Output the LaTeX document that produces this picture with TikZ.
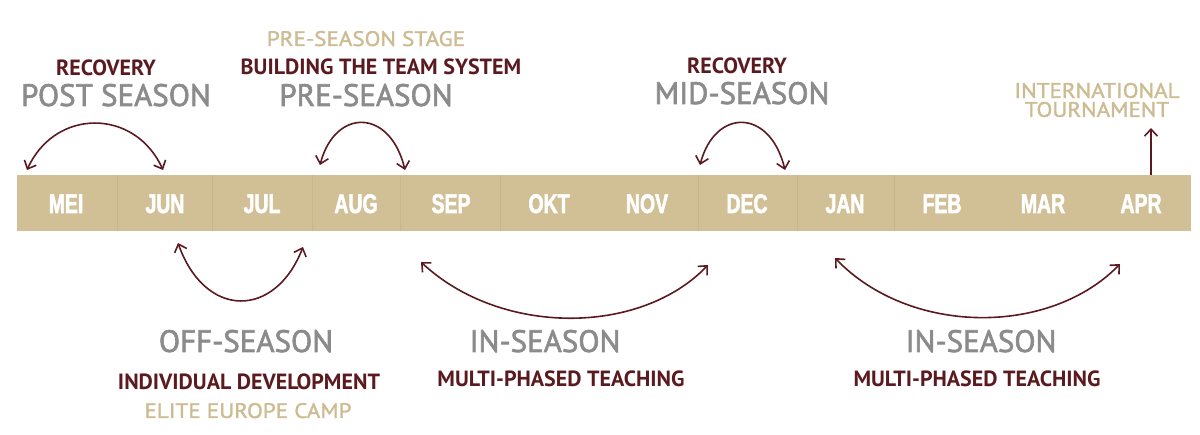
\documentclass[tikz,border=0pt]{standalone}
\usepackage{fontspec}
\setmainfont{PT Sans}
\newfontfamily\monthfont{Liberation Sans}[FakeStretch=0.72,FakeBold=2]
\newfontfamily\phasefont{PT Sans}[FakeBold=2]
\newfontfamily\notefont{PT Sans}[FakeStretch=1.1,FakeBold=1.5]
\usetikzlibrary{arrows.meta}
\definecolor{barfill}{HTML}{D1BF95}
\definecolor{barline}{HTML}{C8B689}
\definecolor{maroonc}{HTML}{5B1A1F}
\definecolor{greytxt}{HTML}{8B8B8B}
\definecolor{tantxt}{HTML}{CDBB92}
\tikzset{
 month/.style={font=\monthfont\bfseries\fontsize{27}{27}\selectfont, text=white, anchor=base, inner sep=0pt},
 phase/.style={font=\phasefont\fontsize{31}{31}\selectfont, text=greytxt, anchor=base, inner sep=0pt},
 sub/.style={font=\bfseries\fontsize{22}{22}\selectfont, text=maroonc, anchor=base, inner sep=0pt},
 note/.style={font=\notefont\fontsize{21}{19}\selectfont, text=tantxt, anchor=base, inner sep=0pt},
 arc/.style={draw=maroonc, line width=1.6pt, {Straight Barb[length=7pt,width=13pt]}-{Straight Barb[length=7pt,width=13pt]}},
 uparrow/.style={draw=maroonc, line width=1.6pt, -{Straight Barb[length=7pt,width=13pt]}},
 divider/.style={draw=barline, line width=0.7pt},
}
\begin{document}
\begin{tikzpicture}[x=1pt,y=-1pt]
\useasboundingbox (0,0) rectangle (1200,435);
% bar
\fill[barfill] (17,175) rectangle (1191,231);
\foreach \xx in {117,212,312,400,500,698,797,894} {\draw[divider] (\xx,175) -- (\xx,231);}
% months
\node[month] (m1) at (66,213) {MEI};
\node[month] (m2) at (165,213) {JUN};
\node[month] (m3) at (262,213) {JUL};
\node[month] (m4) at (356,213) {AUG};
\node[month] (m5) at (451,213) {SEP};
\node[month] (m6) at (549,213) {OKT};
\node[month] (m7) at (647,213) {NOV};
\node[month] (m8) at (747,213) {DEC};
\node[month] (m9) at (845,213) {JAN};
\node[month] (m10) at (942,213) {FEB};
\node[month] (m11) at (1043,213) {MAR};
\node[month] (m12) at (1141,213) {APR};
% top texts
\node[sub] (rec1) at (106,76) {RECOVERY};
\node[phase] (post) at (116,106) {POST SEASON};
\node[note] (stage) at (366,46) {PRE-SEASON STAGE};
\node[sub] (build) at (381,75) {BUILDING THE TEAM SYSTEM};
\node[phase] (pre) at (366,106) {PRE-SEASON};
\node[sub] (rec2) at (737,74) {RECOVERY};
\node[phase] (mid) at (742,104) {MID-SEASON};
\node[note, anchor=center, align=center] (intl) at (1097,100) {INTERNATIONAL\\TOURNAMENT};
% bottom texts
\node[phase] (off) at (246,352) {OFF-SEASON};
\node[sub] (indiv) at (249,390) {INDIVIDUAL DEVELOPMENT};
\node[note] (camp) at (248,418) {ELITE EUROPE CAMP};
\node[phase] (in1) at (545,352) {IN-SEASON};
\node[sub] (multi1) at (561,387) {MULTI-PHASED TEACHING};
\node[phase] (in2) at (981,352) {IN-SEASON};
\node[sub] (multi2) at (977,387) {MULTI-PHASED TEACHING};
% arcs
\coordinate (a1s) at (27,170); \coordinate (a1e) at (163,170);
\draw[arc] (a1s) .. controls (55,108) and (135,108) .. (a1e);
\coordinate (a2s) at (320,165); \coordinate (a2e) at (405,170);
\draw[arc] (a2s) .. controls (335,108) and (390,108) .. (a2e);
\coordinate (a3s) at (700,165); \coordinate (a3e) at (785,170);
\draw[arc] (a3s) .. controls (715,108) and (770,108) .. (a3e);
\coordinate (b1s) at (178,243); \coordinate (b1e) at (303,247);
\draw[arc] (b1s) .. controls (205,319) and (275,319) .. (b1e);
\coordinate (b2s) at (421,262); \coordinate (b2e) at (708,265);
\draw[arc] (b2s) .. controls (500,336) and (640,336) .. (b2e);
\coordinate (b3s) at (835,258); \coordinate (b3e) at (1120,264);
\draw[arc] (b3s) .. controls (910,336) and (1050,336) .. (b3e);
\coordinate (upb) at (1151,175); \coordinate (upt) at (1151,128);
\draw[uparrow] (upb) -- (upt);
\end{tikzpicture}
\end{document}
